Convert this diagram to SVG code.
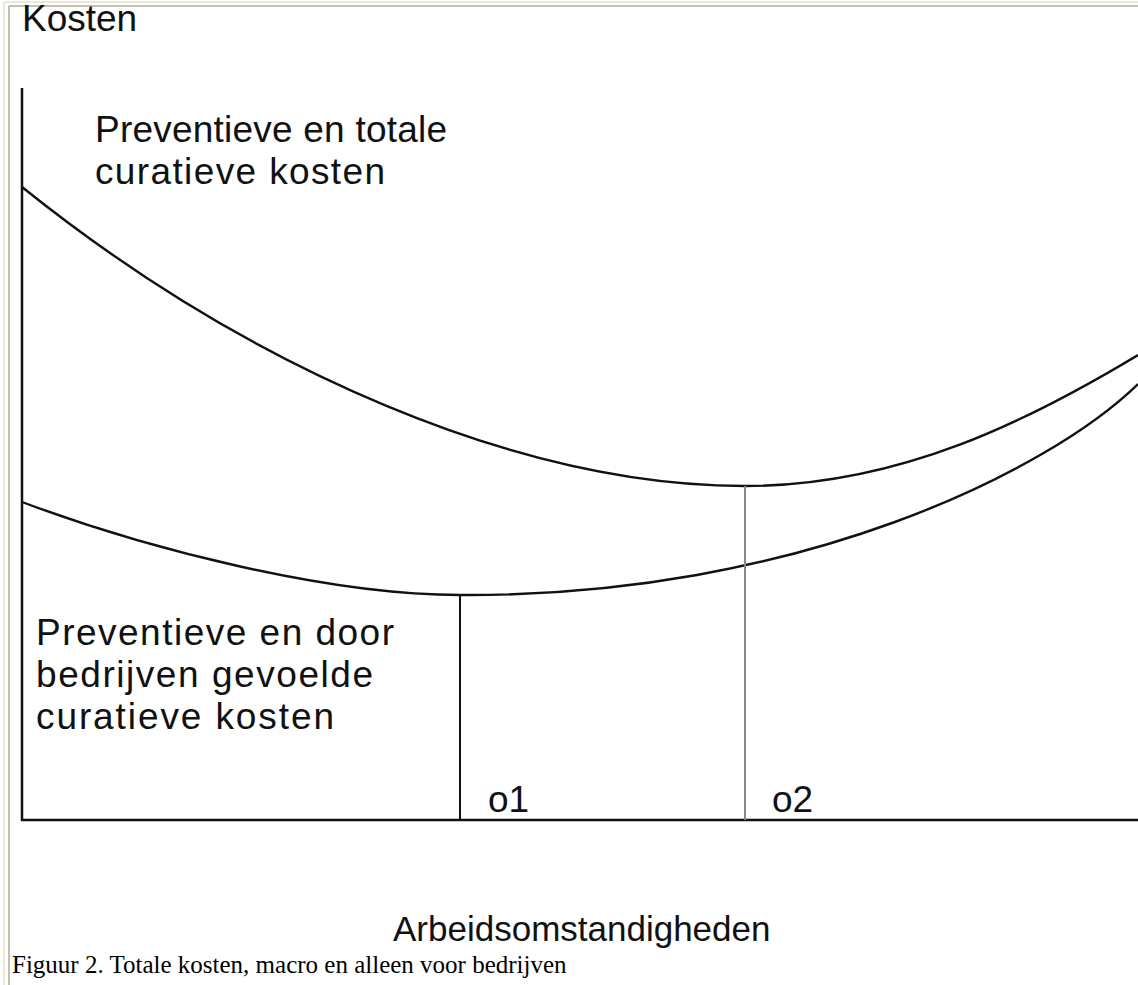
<svg xmlns="http://www.w3.org/2000/svg" width="1138" height="985" viewBox="0 0 1138 985">
<style>
.lbl{font-family:"Liberation Sans",Arial,Helvetica,sans-serif;font-size:37px;fill:#111}
.cap{font-family:"Liberation Serif","Times New Roman",serif;font-size:25px;fill:#000}
.curve{fill:none;stroke:#111;stroke-width:2.4}
.axis{fill:none;stroke:#111;stroke-width:2.5}
</style>
<rect width="1138" height="985" fill="#fff"/>
<g id="frame">
<line x1="4" y1="2" x2="1138" y2="2" stroke="#ece9d8" stroke-width="2"/>
<line x1="4" y1="2" x2="4" y2="985" stroke="#ece9d8" stroke-width="2"/>
<line x1="9" y1="6" x2="1138" y2="6" stroke="#aca899" stroke-width="1.5"/>
<line x1="9" y1="6" x2="9" y2="985" stroke="#aca899" stroke-width="1.5"/>
</g>
<g id="axes">
<path class="axis" d="M22,88 V820 H1138"/>
</g>
<g id="connectors">
<path id="upper-curve" class="curve" d="M22,187 C250,370 520,486 745,486 C900,486 1030,420 1138,355"/>
<path id="lower-curve" class="curve" d="M22,502 C150,550 330,595 460,595 C800,597 1050,470 1138,384"/>
<line id="o1-line" x1="460" y1="595" x2="460" y2="820" stroke="#111" stroke-width="2"/>
<line id="o2-line" x1="745" y1="486" x2="745" y2="820" stroke="#888" stroke-width="2"/>
</g>
<g id="y-label"><text class="lbl" x="22" y="31">Kosten</text></g>
<g id="upper-label">
<text class="lbl" x="95" y="142" textLength="352" lengthAdjust="spacing">Preventieve en totale</text>
<text class="lbl" x="95" y="184" textLength="290" lengthAdjust="spacing">curatieve kosten</text>
</g>
<g id="lower-label">
<text class="lbl" x="36" y="645" textLength="358" lengthAdjust="spacing">Preventieve en door</text>
<text class="lbl" x="36" y="687" textLength="337" lengthAdjust="spacing">bedrijven gevoelde</text>
<text class="lbl" x="36" y="729" textLength="298" lengthAdjust="spacing">curatieve kosten</text>
</g>
<g id="o1"><text class="lbl" x="488" y="812">o1</text></g>
<g id="o2"><text class="lbl" x="772" y="812">o2</text></g>
<g id="x-label"><text class="lbl" x="393" y="941" style="font-size:35px">Arbeidsomstandigheden</text></g>
<g id="caption"><text class="cap" x="12" y="973">Figuur 2. Totale kosten, macro en alleen voor bedrijven</text></g>
</svg>
